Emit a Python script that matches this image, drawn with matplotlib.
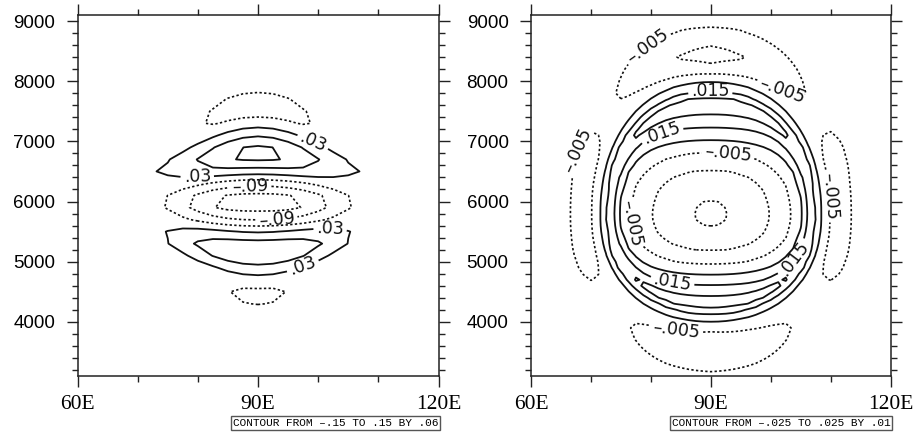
import numpy as np
import matplotlib
matplotlib.use("Agg")
import matplotlib.pyplot as plt
from matplotlib.ticker import FixedLocator, MultipleLocator

# ---------------- left panel: layered wave packet ----------------
left_levels = [-0.15, -0.09, -0.03, 0.03, 0.09, 0.15]
lobe_z = [3500, 4400, 5120, 5975, 6850, 7700, 8600]          # lobe centre heights
lobe_amp = [0.0, 0.038, 0.138, 0.185, 0.172, 0.052, 0.0]     # lobe peak magnitude
lobe_xw = [7.0, 6.5, 14.0, 13.0, 12.8, 9.5, 9.0]             # lobe half width (deg)
lobe_p = [3.3, 3.3, 3.3, 3.3, 2.0, 3.3, 3.3]                 # envelope shape exponent
phase_dz = [-2500, -1600, -1285, -857, -435, 0, 435, 840, 1330, 1700, 2500]
phase_pi = [-3.4, -2.0, -1.5, -1.0, -0.5, 0.0, 0.5, 1.0, 1.5, 2.0, 3.4]
left_labels = [(99.5, 7080, 0.03), (79.9, 6428, 0.03), (88.7, 6300, -0.09),
               (93.1, 5660, -0.09), (102.0, 5510, 0.03), (97.6, 4880, 0.03)]

# ---------------- right panel: ring structure ----------------
right_levels = [-0.025, -0.015, -0.005, 0.005, 0.015, 0.025]
prof_r = [0.0, 0.13, 0.41, 0.57, 0.685, 0.80, 0.92, 1.0, 1.08, 1.13,
          1.22, 1.29, 1.39, 1.47, 1.55, 1.72, 2.0]
prof_v = [-0.028, -0.025, -0.015, -0.005, 0.005, 0.015, 0.025, 0.031, 0.025,
          0.015, 0.005, -0.005, -0.015, -0.019, -0.015, -0.005, 0.0]
warp_h = [0.0, 0.16, 0.59, 0.81, 0.90, 1.0, 1.11, 1.156, 1.3, 1.44, 1.7, 2.5]
warp_v = [0.0, 0.13, 0.41, 0.57, 0.685, 1.0, 1.22, 1.29, 1.47, 1.72, 2.0, 2.8]
warp_dn = [0.0, 1.0, 1.3, 1.57, 1.85, 2.4]
warp_dv = [0.0, 1.0, 1.29, 1.47, 1.72, 2.1]
ang_deg = [0, 15, 25, 38, 50, 60, 75, 90]
ring_top = [0.68, 0.72, 0.76, 0.84, 0.93, 0.97, 1.0, 1.0]
ring_bot = [0.68, 0.74, 0.80, 0.86, 0.92, 0.95, 0.97, 0.97]
outer_top = [0.56, 0.56, 0.56, 0.15, 0.30, 0.50, 0.79, 1.0]
outer_bot = [0.56, 0.56, 0.50, 0.15, 0.20, 0.30, 0.52, 0.65]
right_labels = [(79.9, 8512, -0.005), (89.9, 7880, 0.015), (102.0, 7880, -0.005),
                (82.0, 7067, 0.015), (92.9, 6795, -0.005), (68.2, 6845, -0.005),
                (110.2, 6095, -0.005), (77.3, 5645, -0.005), (102.9, 5128, 0.015),
                (83.7, 4728, 0.015), (84.3, 3870, -0.005)]

X0, Z0 = 90.0, 5975.0
BEND = 22.0
RC_X, RC_Z = 90.0, 5780.0
AX, AZ_UP, AZ_DN = 16.7, 1810.0, 1450.0
SQ = 2.25


def layered_field(x, z):
    X, Z = np.meshgrid(x, z)
    dx = X - X0
    zz = Z0 + (Z - Z0) * (1.0 + (dx / BEND) ** 2)
    out = np.zeros_like(X)
    for j in range(X.shape[1]):
        d = abs(dx[0, j])
        amps = [a * np.exp(-(d / w) ** q) for a, w, q in zip(lobe_amp, lobe_xw, lobe_p)]
        amp = np.interp(zz[:, j], lobe_z, amps)
        ph = np.interp(zz[:, j] - Z0, phase_dz, phase_pi) * np.pi
        out[:, j] = -amp * np.cos(ph)
    return out


def ring_field(x, z):
    X, Z = np.meshgrid(x, z)
    nx = np.abs(X - RC_X) / AX
    dz = Z - RC_Z
    up = dz >= 0
    nz = np.where(up, dz / AZ_UP, -dz / AZ_DN)
    rho = (nx ** SQ + nz ** SQ) ** (1.0 / SQ)
    safe = np.where(rho > 0, rho, 1.0)
    c2 = nx ** SQ / safe ** SQ
    s2 = 1.0 - c2
    rv = np.where(up, rho, np.interp(rho, warp_dn, warp_dv))
    reff = s2 * rv + c2 * np.interp(rho, warp_h, warp_v)
    v = np.interp(reff, prof_r, prof_v)
    phi = np.degrees(np.arctan2(nz, nx))
    rs = np.where(up, np.interp(phi, ang_deg, ring_top), np.interp(phi, ang_deg, ring_bot))
    os_ = np.where(up, np.interp(phi, ang_deg, outer_top), np.interp(phi, ang_deg, outer_bot))
    v = np.where(v > 0, v * rs, np.where(reff > 1.0, v * os_, v))
    return v


def fmt(v):
    s = f"{abs(v):.3f}".rstrip("0").lstrip("0")
    return ("\u2013" if v < 0 else "") + s


W, H = 915, 434
fig = plt.figure(figsize=(W / 100, H / 100), dpi=100)

panels = [
    dict(left=77.5, right=438.5, grid=(np.arange(60, 120.01, 2.5), np.arange(3100, 9100.1, 200)),
         func=layered_field, levels=left_levels, labels=left_labels,
         info="CONTOUR FROM \u2013.15 TO .15 BY .06"),
    dict(left=531.0, right=890.7, grid=(np.arange(60, 120.01, 1.25), np.arange(3100, 9100.1, 100)),
         func=ring_field, levels=right_levels, labels=right_labels,
         info="CONTOUR FROM \u2013.025 TO .025 BY .01"),
]

top_px, bot_px = 15.0, 376.0
for p in panels:
    ax = fig.add_axes([p["left"] / W, 1 - bot_px / H, (p["right"] - p["left"]) / W,
                       (bot_px - top_px) / H])
    x, z = p["grid"]
    f = p["func"](x, z)
    sets = {}
    for lev in p["levels"]:
        if lev < 0:
            sets[lev] = ax.contour(x, z, f, levels=[lev], colors="#111111",
                                   linewidths=1.2, linestyles=[(0, (1.4, 1.4))])
        else:
            sets[lev] = ax.contour(x, z, f, levels=[lev], colors="#111111",
                                   linewidths=1.3, linestyles="solid")
    for lev in p["levels"]:
        pts = [(lx, lz) for (lx, lz, lv) in p["labels"] if lv == lev]
        if pts:
            sets[lev].clabel(inline=True, fmt=fmt, fontsize=12.5, manual=pts,
                             inline_spacing=3, colors="#111111")
    ax.set_xlim(60, 120)
    ax.set_ylim(3100, 9100)
    ax.xaxis.set_major_locator(FixedLocator([60, 90, 120]))
    ax.xaxis.set_minor_locator(FixedLocator([70, 80, 100, 110]))
    ax.set_xticklabels(["60E", "90E", "120E"], fontfamily="Liberation Serif", fontsize=15.5)
    ax.yaxis.set_major_locator(FixedLocator([4000, 5000, 6000, 7000, 8000, 9000]))
    ax.yaxis.set_minor_locator(MultipleLocator(200))
    for lab in ax.get_yticklabels():
        lab.set_fontfamily("Liberation Sans")
        lab.set_fontsize(13.5)
    ax.tick_params(which="both", direction="out", top=True, right=True,
                   color="#222222", width=1.0)
    ax.tick_params(which="major", length=7.7)
    ax.tick_params(which="minor", length=4.0)
    ax.tick_params(axis="y", which="major", pad=8.5)
    ax.tick_params(axis="x", which="major", pad=6)
    for sp in ax.spines.values():
        sp.set_linewidth(1.1)
        sp.set_color("#222222")
    fig.text(p["right"] / W, 1 - 423 / H, p["info"], ha="right", va="center",
             fontfamily="Liberation Mono", fontsize=8,
             bbox=dict(boxstyle="square,pad=0.15", facecolor="white",
                       edgecolor="#555555", linewidth=1.0))

fig.savefig("out.png", dpi=100)
